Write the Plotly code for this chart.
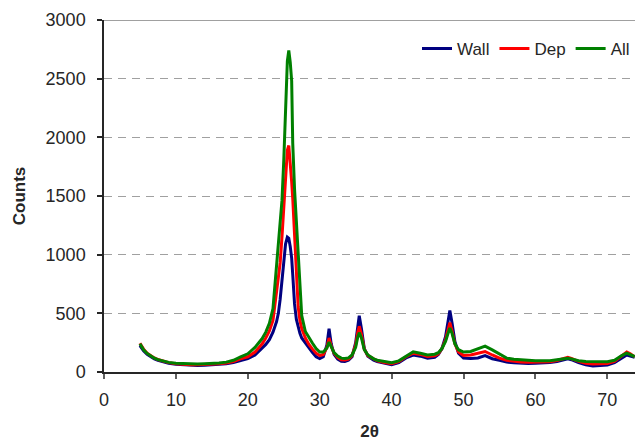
import plotly.graph_objects as go

# Diffraction angle grid (degrees 2-theta)
two_theta = [5.0, 5.5, 6.0, 6.5, 7.0, 7.5, 8.0, 9.0, 10.0, 11.0,
             12.0, 13.0, 14.0, 15.0, 16.0, 17.0, 18.0, 19.0, 20.0, 21.0,
             22.0, 22.5, 23.0, 23.5, 24.0, 24.25, 24.5, 24.75, 25.0, 25.25,
             25.5, 25.7, 25.9, 26.1, 26.25, 26.5, 26.75, 27.0, 27.25, 27.5,
             28.0, 28.5, 29.0, 29.5, 30.0, 30.5, 31.0, 31.3, 31.6, 32.0,
             32.5, 33.0, 33.5, 34.0, 34.5, 35.0, 35.3, 35.5, 35.8, 36.2,
             36.7, 37.5, 38.0, 39.0, 40.0, 41.0, 42.0, 43.0, 44.0, 45.0,
             46.0, 46.5, 47.0, 47.5, 47.8, 48.1, 48.4, 48.8, 49.3, 50.0,
             51.0, 52.0, 53.0, 54.0, 55.0, 56.0, 57.0, 58.0, 59.0, 60.0,
             61.0, 62.0, 63.0, 64.0, 64.5, 65.0, 66.0, 67.0, 68.0, 69.0,
             70.0, 71.0, 72.0, 72.7, 73.2, 73.8]

# Counts for each sample
wall = [225, 180, 150, 130, 112, 100, 90, 75, 65, 60,
        57, 56, 57, 60, 64, 70, 80, 100, 115, 145,
        200, 235, 275, 340, 430, 500, 620, 780, 980, 1090,
        1150, 1140, 1070, 970, 830, 580, 450, 380, 330, 290,
        245, 200, 165, 130, 115, 130, 230, 370, 240, 150,
        110, 92, 90, 100, 130, 250, 420, 480, 370, 200,
        135, 100, 88, 72, 62, 80, 120, 145, 135, 118,
        125, 150, 200, 300, 420, 525, 420, 260, 160, 118,
        115, 120, 140, 113, 100, 85, 78, 74, 73, 74,
        76, 80, 90, 105, 112, 105, 80, 62, 52, 55,
        60, 80, 115, 145, 135, 125]

dep = [245, 195, 160, 138, 120, 106, 96, 80, 70, 64,
       62, 61, 62, 65, 70, 77, 90, 112, 130, 170,
       240, 290, 350, 440, 680, 800, 930, 1150, 1380, 1650,
       1890, 1930, 1800, 1620, 1480, 1200, 950, 560, 440, 370,
       290, 235, 195, 160, 140, 150, 210, 290, 220, 160,
       125, 105, 102, 110, 140, 230, 340, 390, 320, 195,
       140, 108, 95, 80, 70, 88, 130, 160, 150, 132,
       138, 155, 200, 275, 350, 420, 350, 240, 170, 140,
       145, 160, 175, 145, 118, 100, 90, 85, 83, 84,
       85, 88, 98, 115, 125, 115, 90, 75, 68, 70,
       72, 90, 135, 170, 155, 130]

all_ = [240, 190, 158, 136, 118, 105, 96, 82, 74, 70,
        68, 68, 70, 72, 76, 84, 100, 128, 155, 210,
        285, 340, 415, 540, 920, 1110, 1290, 1460, 1800, 2300,
        2650, 2740, 2640, 2480, 1950, 1560, 1260, 1000, 740, 480,
        345, 290, 245, 200, 170, 170, 205, 255, 215, 165,
        135, 118, 115, 120, 145, 210, 300, 335, 290, 190,
        145, 112, 100, 88, 80, 95, 135, 172, 160, 145,
        152, 165, 200, 260, 320, 375, 330, 240, 190, 170,
        175, 200, 220, 188, 153, 118, 108, 102, 98, 96,
        96, 96, 104, 115, 118, 112, 96, 90, 88, 88,
        88, 100, 140, 160, 150, 132]

assert len(two_theta) == len(wall) == len(dep) == len(all_)

series = [("Wall", wall, "#000080"), ("Dep", dep, "#ff0000"), ("All", all_, "#008000")]

FONT = "Liberation Sans, Arial, sans-serif"
TXT = "#262626"

fig = go.Figure()
for name, vals, color in series:
    fig.add_trace(go.Scatter(x=two_theta, y=vals, name=name, mode="lines",
                             line=dict(color=color, width=3)))

fig.update_layout(
    width=635, height=441,
    margin=dict(l=104, r=0, t=20, b=69),
    paper_bgcolor="white", plot_bgcolor="white",
    font=dict(family=FONT, size=18, color=TXT),
    showlegend=True,
    legend=dict(orientation="h", x=1.0, xanchor="right", y=0.918, yanchor="middle",
                bgcolor="rgba(0,0,0,0)", font=dict(size=17, color=TXT),
                traceorder="normal"),
    xaxis=dict(range=[0, 73.85], tickvals=[0, 10, 20, 30, 40, 50, 60, 70],
               showgrid=False, zeroline=False,
               showline=True, linecolor="#262626", linewidth=1.5,
               ticks="outside", ticklen=5, tickcolor="#606060", tickwidth=1.5,
               ticklabelstandoff=6, tickfont=dict(size=18),
               title=dict(text="<b>2θ</b>", font=dict(size=17, color=TXT), standoff=16)),
    yaxis=dict(range=[0, 3000], tickvals=[0, 500, 1000, 1500, 2000, 2500, 3000],
               showgrid=True, gridcolor="#a0a0a0", gridwidth=1, griddash="8px,6px",
               zeroline=False,
               showline=True, linecolor="#262626", linewidth=1.5,
               ticks="outside", ticklen=5, tickcolor="#262626", tickwidth=1.5,
               ticklabelstandoff=8, tickfont=dict(size=18),
               title=dict(text="<b>Counts</b>", font=dict(size=17, color=TXT), standoff=16)),
)

# Solid border along the top of the plotting area
fig.add_shape(type="line", xref="paper", yref="y", x0=0, x1=1, y0=3000, y1=3000,
              line=dict(color="#808080", width=1.5))

fig.write_html("out.html")
